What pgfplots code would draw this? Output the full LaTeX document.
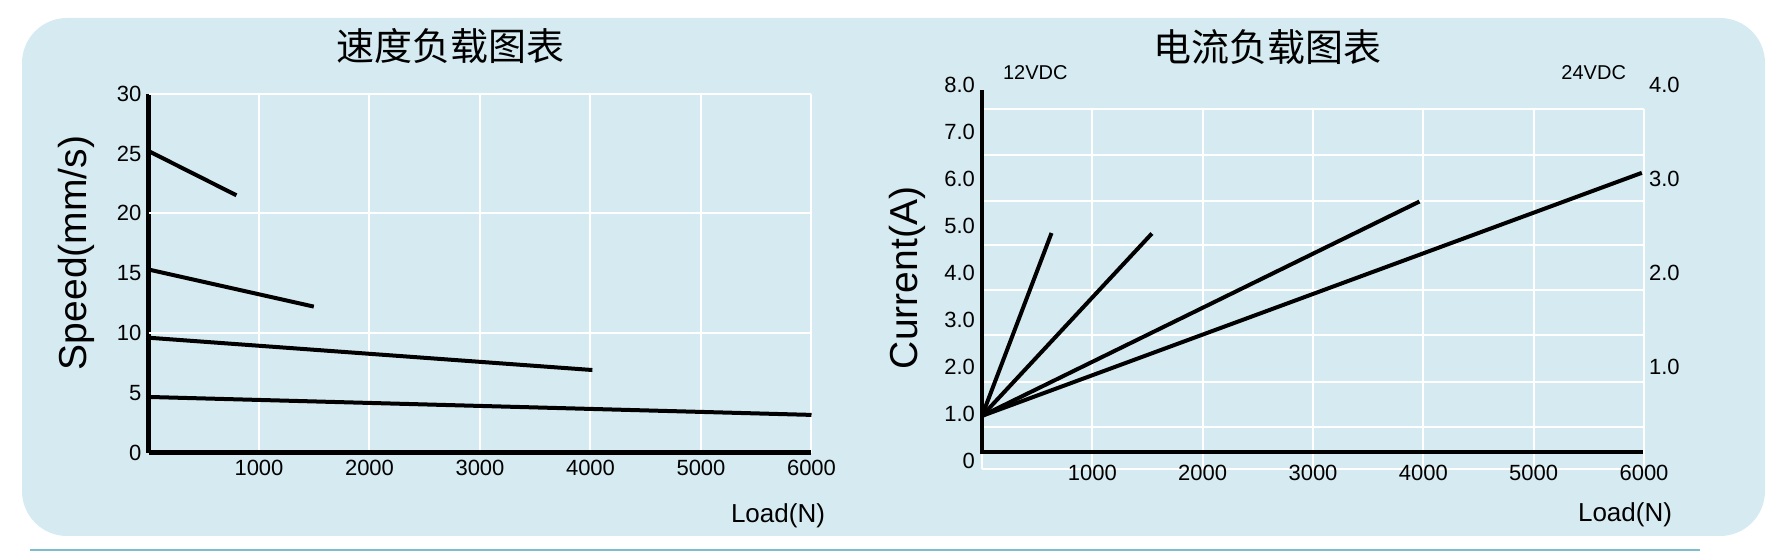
\documentclass[border=0pt]{standalone}
\usepackage{fontspec}
\setmainfont{Liberation Sans}
\newfontfamily\cjk{Noto Sans CJK SC}
\usepackage{pgfplots}
\pgfplotsset{compat=1.18}
\definecolor{panel}{RGB}{214,235,241}
\definecolor{rulecol}{RGB}{125,190,205}

\pgfplotsset{
  loadchart/.style={
    scale only axis, anchor=south west, clip=false,
    xmin=0, xmax=6000,
    major tick length=0pt,
    tick label style={font=\fontsize{11}{13}\selectfont},
    grid style={white, line width=1pt},
    xmajorgrids,
  },
  curve/.style={black, line width=2pt},
}

\begin{document}
\begin{tikzpicture}[x=0.5pt, y=0.5pt]
\path[use as bounding box] (0,0) rectangle (1777,551);
\fill[panel, rounded corners=22.5pt] (22,15) rectangle (1765,533);
\draw[rulecol, line width=1pt] (30,1) -- (1700,1);

% speed vs load
\begin{axis}[loadchart, at={(74.25pt,49.2pt)}, width=331.5pt, height=179.5pt,
  ymin=0, ymax=30,
  axis x line*=bottom, axis y line*=left,
  axis line style={line width=2.2pt, -},
  xtick={1000,2000,3000,4000,5000,6000},
  xticklabels={1000,2000,3000,4000,5000,6000},
  ytick={0,5,10,15,20,25,30},
  yticklabels={0,5,10,15,20,25,30},
  extra y ticks={10,20,30}, extra y tick labels={},
  extra y tick style={grid=major}]
\addplot[curve] coordinates {(0,25.2) (796,21.5)};
\addplot[curve] coordinates {(0,15.3) (1496,12.2)};
\addplot[curve] coordinates {(0,9.6) (4017,6.9)};
\addplot[curve] coordinates {(0,4.65) (6000,3.15)};
\end{axis}

% bottom grid line of the current chart, drawn first so the labels sit over it
\begin{axis}[scale only axis, anchor=south west, clip=false, hide axis,
  at={(491pt,41pt)}, width=331pt, height=179.8pt,
  xmin=0, xmax=6000, ymin=-0.17, ymax=7.48]
\addplot[white, line width=1pt] coordinates {(0,-0.17) (6000,-0.17)};
\end{axis}

% current vs load, 12VDC scale
\begin{axis}[loadchart, at={(491pt,41pt)}, width=331pt, height=179.8pt,
  ymin=-0.17, ymax=7.48,
  axis line style={draw=none},
  xtick={0,1000,2000,3000,4000,5000,6000},
  xticklabels={,1000,2000,3000,4000,5000,6000},
  xticklabel style={yshift=5.5pt},
  ytick={0,1,2,3,4,5,6,7},
  yticklabels={0,1.0,2.0,3.0,4.0,5.0,6.0,7.0},
  extra y ticks={0.73,1.69,2.67,3.63,4.59,5.54,6.5,7.48},
  extra y tick labels={},
  extra y tick style={grid=major}]
\addplot[curve] coordinates {(0,0.96) (630,4.85)};
\addplot[curve] coordinates {(0,0.96) (1540,4.84)};
\addplot[curve] coordinates {(0,0.96) (3965,5.52)};
\addplot[curve] coordinates {(0,0.96) (5980,6.13)};
\addplot[black, line width=2.2pt] coordinates {(0,7.89) (0,0.19) (5990,0.19)};
\node[anchor=east, font=\fontsize{11}{13}\selectfont] at (axis cs:0,8) {8.0};
\end{axis}

% 24VDC scale
\begin{axis}[scale only axis, anchor=south west, clip=false,
  at={(491pt,41pt)}, width=331pt, height=179.8pt,
  xmin=0, xmax=6000, ymin=-0.085, ymax=3.74,
  axis line style={draw=none}, major tick length=0pt,
  axis y line*=right, axis x line=none,
  tick label style={font=\fontsize{11}{13}\selectfont},
  yticklabel style={xshift=-1pt},
  ytick={1,2,3}, yticklabels={1.0,2.0,3.0}]
\node[anchor=west, xshift=-1pt, font=\fontsize{11}{13}\selectfont] at (axis cs:6000,4) {4.0};
\end{axis}

\node[font=\cjk\fontsize{19}{22}\selectfont] at (450,505) {速度负载图表};
\node[font=\cjk\fontsize{19}{22}\selectfont] at (1267,504) {电流负载图表};
\node[rotate=90, font=\fontsize{19.5}{22}\selectfont] at (76,298) {Speed(mm/s)};
\node[rotate=90, font=\fontsize{19.5}{22}\selectfont] at (907,273) {Current(A)};
\node[font=\fontsize{13}{15}\selectfont] at (778,35) {Load(N)};
\node[font=\fontsize{13}{15}\selectfont] at (1625,36) {Load(N)};
\node[anchor=west, font=\fontsize{10}{12}\selectfont] at (996,478) {12VDC};
\node[anchor=east, font=\fontsize{10}{12}\selectfont] at (1633,478) {24VDC};
\end{tikzpicture}
\end{document}
